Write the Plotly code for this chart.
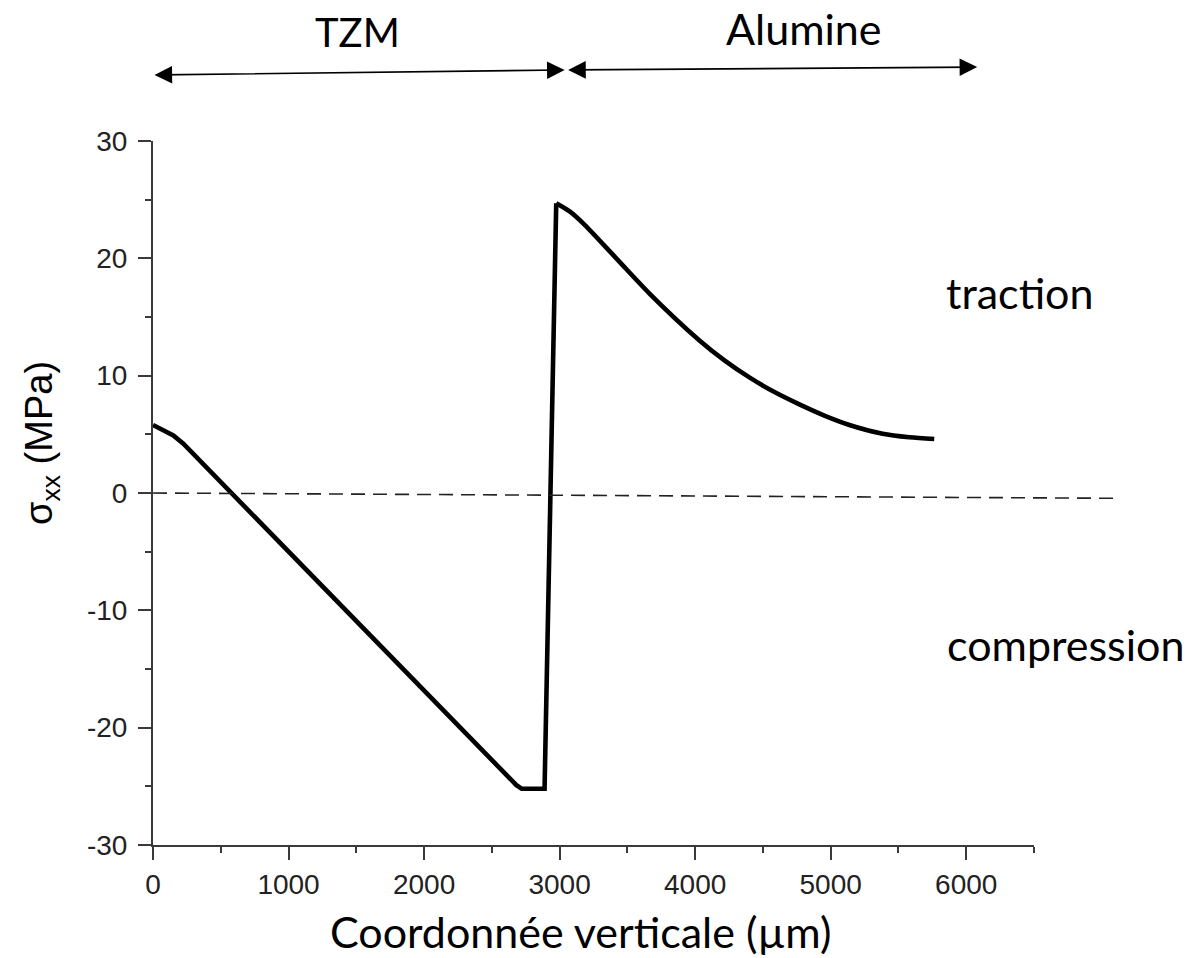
import plotly.graph_objects as go

# Stress profile sigma_xx along the vertical coordinate (µm -> MPa)
tzm_x = [0, 74, 150, 224, 2681, 2720, 2889]
tzm_sigma = [5.8, 5.4, 4.9, 4.2, -24.9, -25.2, -25.2]
alumine_x = [2975, 3074, 3172, 3418, 3663, 4032, 4216, 4400, 4585, 4769,
             4953, 5138, 5383, 5580, 5764]
alumine_sigma = [24.7, 24.0, 23.0, 20.0, 17.0, 13.0, 11.3, 9.85, 8.6, 7.55,
                 6.6, 5.8, 5.05, 4.75, 4.6]

x_ticks = [0, 1000, 2000, 3000, 4000, 5000, 6000]
y_ticks = [-30, -20, -10, 0, 10, 20, 30]
x_range = [0, 6500]
y_range = [-30, 30]

# Material zones shown above the plot (µm)
zones = ["TZM", "Alumine"]
zone_starts = [0, 3052]
zone_ends = [3037, 6081]

# Zero-stress reference line, extending past the axis end
zero_line_x = [0, 7090]
zero_line_y = [0, -0.45]

AXIS_COLOR = "#3a3a3a"
TICK_FONT = dict(family="Liberation Sans, Arial", size=28, color="#222222")
LABEL_FONT = "Lato, Calibri, Noto Sans"
LINE = dict(color="black", width=4.6)

fig = go.Figure()
# TZM side and the jump at the interface
fig.add_trace(go.Scatter(
    x=tzm_x + alumine_x[:1], y=tzm_sigma + alumine_sigma[:1], mode="lines",
    line=LINE, showlegend=False, hoverinfo="skip",
))
# Alumina side, smooth decay
fig.add_trace(go.Scatter(
    x=alumine_x, y=alumine_sigma, mode="lines",
    line=dict(**LINE, shape="spline", smoothing=0.8),
    showlegend=False, hoverinfo="skip",
))

span = x_range[1] - x_range[0]
fig.add_shape(
    type="line", xref="x domain", yref="y",
    x0=(zero_line_x[0] - x_range[0]) / span, x1=(zero_line_x[1] - x_range[0]) / span,
    y0=zero_line_y[0], y1=zero_line_y[1],
    line=dict(color="#222222", width=1.6, dash="14px,8px"),
)

# Double-headed arrows marking each material zone
arrow_y = [(1.0938, 1.1009), (1.1009, 1.1050)]
label_y = [1.155, 1.160]
label_x = [1510, 4800]
label_size = [40, 43]
for name, x0, x1, (ya, yb), ly, lx, fs in zip(zones, zone_starts, zone_ends, arrow_y,
                                              label_y, label_x, label_size):
    fig.add_annotation(
        x=x1, y=yb, ax=x0, ay=ya,
        xref="x", yref="y domain", axref="x", ayref="y domain",
        text="", showarrow=True, arrowside="end+start",
        arrowhead=2, arrowsize=2.2, startarrowhead=2, startarrowsize=2.2,
        arrowwidth=1.6, arrowcolor="black",
    )
    fig.add_annotation(
        x=lx, y=ly, xref="x", yref="y domain", text=name, showarrow=False,
        font=dict(family=LABEL_FONT, size=fs, color="black"),
        xanchor="center", yanchor="middle",
    )

# Region labels to the right of the plot area
fig.add_annotation(x=0.984, y=0.785, xref="paper", yref="paper", text="traction",
                   showarrow=False, xanchor="center", yanchor="middle",
                   font=dict(family=LABEL_FONT, size=43, color="black"))
fig.add_annotation(x=1.036, y=0.285, xref="paper", yref="paper", text="compression",
                   showarrow=False, xanchor="center", yanchor="middle",
                   font=dict(family=LABEL_FONT, size=43, color="black"))

# Axis titles
fig.add_annotation(x=0.4847, y=-0.123, xref="paper", yref="paper",
                   text="Coordonnée verticale (µm)", showarrow=False,
                   xanchor="center", yanchor="middle",
                   font=dict(family=LABEL_FONT, size=43, color="black"))
fig.add_annotation(x=-0.126, y=0.571, xref="paper", yref="paper",
                   text="σ<sub>xx</sub> (MPa)", showarrow=False, textangle=-90,
                   xanchor="center", yanchor="middle",
                   font=dict(family="Liberation Sans, Arial", size=38, color="black"))

fig.update_layout(
    width=1197, height=958,
    margin=dict(l=153, r=163, t=141, b=113),
    paper_bgcolor="white", plot_bgcolor="white",
    showlegend=False,
)

fig.update_xaxes(
    range=x_range, tickvals=x_ticks, ticktext=[str(v) for v in x_ticks],
    showgrid=False, zeroline=False,
    showline=True, linecolor=AXIS_COLOR, linewidth=2,
    ticks="outside", ticklen=13, tickwidth=2, tickcolor=AXIS_COLOR,
    minor=dict(dtick=500, ticks="outside", ticklen=6, tickwidth=2, tickcolor=AXIS_COLOR),
    tickfont=TICK_FONT,
)
fig.update_yaxes(
    range=y_range, tickvals=y_ticks, ticktext=[str(v) for v in y_ticks],
    showgrid=False, zeroline=False,
    showline=True, linecolor=AXIS_COLOR, linewidth=2,
    ticks="outside", ticklen=13, tickwidth=2, tickcolor=AXIS_COLOR,
    minor=dict(dtick=5, ticks="outside", ticklen=6, tickwidth=2, tickcolor=AXIS_COLOR),
    tickfont=TICK_FONT, ticklabelstandoff=5,
)

fig.write_html("out.html")
